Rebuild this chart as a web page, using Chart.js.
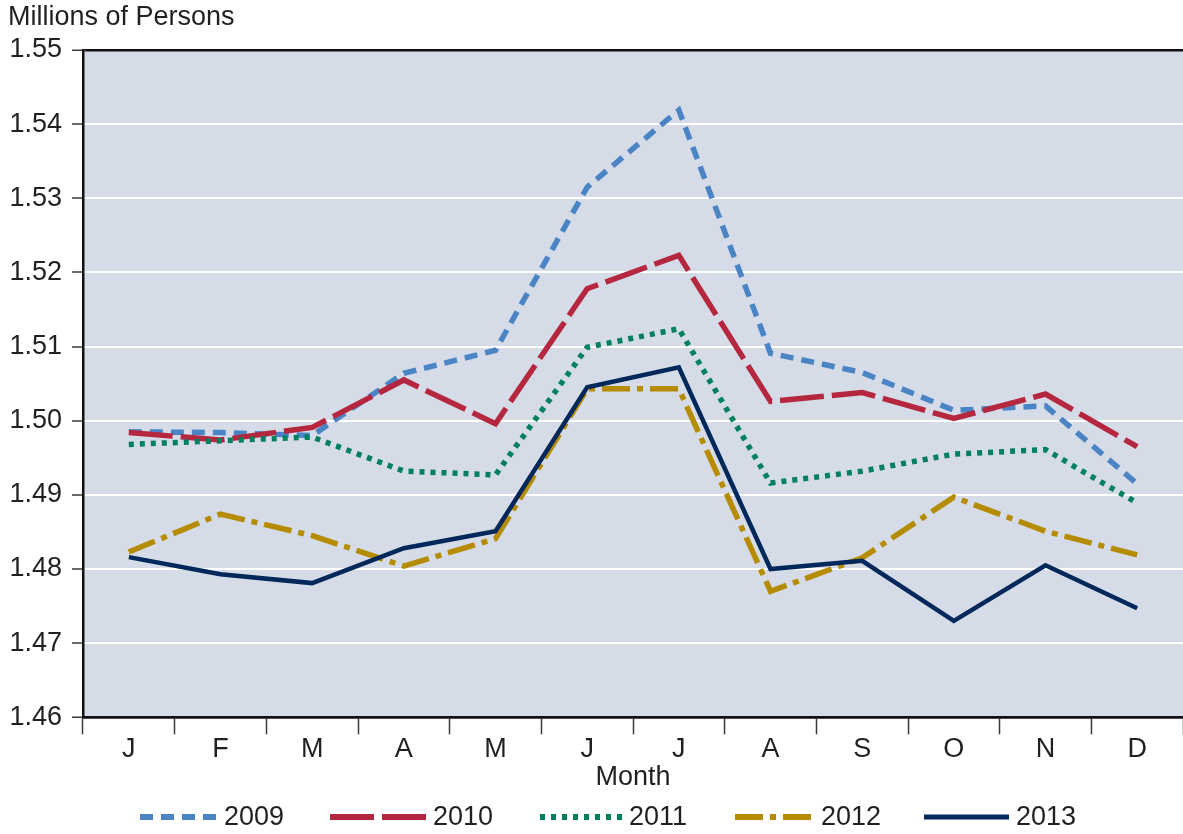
<!DOCTYPE html>
<html>
<head>
<meta charset="utf-8">
<script src="https://cdn.jsdelivr.net/npm/chart.js@4.4.1/dist/chart.umd.min.js"></script>
<style>
  html, body { margin: 0; padding: 0; background: #ffffff; }
  #wrap { width: 1183px; height: 834px; }
</style>
</head>
<body>
<div id="wrap"><canvas id="chart" width="1183" height="834"></canvas></div>
<script>
// Monthly employment, millions of persons
const months = ['J', 'F', 'M', 'A', 'M', 'J', 'J', 'A', 'S', 'O', 'N', 'D'];
const years = ['2009', '2010', '2011', '2012', '2013'];

const values2009 = [1.4985, 1.4984, 1.4980, 1.5064, 1.5095, 1.5315, 1.5419, 1.5091, 1.5065, 1.5014, 1.5020, 1.4915];
const values2010 = [1.4984, 1.4974, 1.4991, 1.5055, 1.4996, 1.5178, 1.5223, 1.5026, 1.5038, 1.5003, 1.5036, 1.4965];
const values2011 = [1.4968, 1.4973, 1.4978, 1.4932, 1.4927, 1.5099, 1.5124, 1.4916, 1.4932, 1.4955, 1.4961, 1.4889];
const values2012 = [1.4823, 1.4874, 1.4845, 1.4804, 1.4841, 1.5043, 1.5043, 1.4770, 1.4815, 1.4897, 1.4851, 1.4819];
const values2013 = [1.4816, 1.4793, 1.4781, 1.4828, 1.4851, 1.5045, 1.5072, 1.4800, 1.4811, 1.4730, 1.4805, 1.4747];

const yMin = 1.46;
const yMax = 1.55;
const yStep = 0.01;

const FONT = "'Liberation Sans', Arial, sans-serif";
const FONT_SIZE = 27;
const TEXT = '#231f20';

function series(label, data, color, dash, width, order) {
  return {
    label: label,
    data: data,
    borderColor: color,
    backgroundColor: color,
    borderDash: dash,
    borderWidth: width,
    borderCapStyle: 'butt',
    pointRadius: 0,
    pointHoverRadius: 0,
    tension: 0,
    fill: false,
    order: order
  };
}

const datasets = [
  series(years[0], values2009, '#4a84c4', [13, 8], 5.5, 5),
  series(years[1], values2010, '#b5273f', [44, 8], 5.5, 4),
  series(years[2], values2011, '#00805e', [5, 6], 5.5, 3),
  series(years[3], values2012, '#b58b00', [28, 7, 6, 7], 5.5, 2),
  series(years[4], values2013, '#00285a', [], 4.5, 1)
];

// white page + shaded plot area
const plotBackground = {
  id: 'plotBackground',
  beforeDraw(chart) {
    const { ctx, chartArea: a } = chart;
    ctx.save();
    ctx.fillStyle = '#ffffff';
    ctx.fillRect(0, 0, chart.width, chart.height);
    ctx.fillStyle = '#d6dce7';
    ctx.fillRect(a.left, a.top, a.right - a.left, a.bottom - a.top);
    ctx.restore();
  }
};

// unit caption above the value axis
const unitCaption = {
  id: 'unitCaption',
  afterDraw(chart) {
    const ctx = chart.ctx;
    ctx.save();
    ctx.font = FONT_SIZE + 'px ' + FONT;
    ctx.fillStyle = TEXT;
    ctx.textAlign = 'left';
    ctx.textBaseline = 'middle';
    ctx.fillText('Millions of Persons', 8, 18);
    ctx.restore();
  }
};

// legend row with line samples in each series' own style
const lineLegend = {
  id: 'lineLegend',
  afterDraw(chart, args, opts) {
    const ctx = chart.ctx;
    const y = opts.y;
    ctx.save();
    ctx.font = FONT_SIZE + 'px ' + FONT;
    ctx.textBaseline = 'middle';
    ctx.textAlign = 'left';
    chart.data.datasets.forEach((ds, i) => {
      const x = opts.starts[i];
      const w = opts.sampleWidths[i];
      ctx.beginPath();
      ctx.setLineDash(ds.borderDash || []);
      ctx.lineCap = 'butt';
      ctx.lineWidth = ds.borderWidth + 0.5;
      ctx.strokeStyle = ds.borderColor;
      ctx.moveTo(x, y);
      ctx.lineTo(x + w, y);
      ctx.stroke();
      ctx.setLineDash([]);
      ctx.fillStyle = TEXT;
      ctx.fillText(ds.label, x + w + opts.textGap, y + 1);
    });
    ctx.restore();
  }
};

const isEdge = (v) => Math.abs(v - yMax) < 1e-9 || Math.abs(v - yMin) < 1e-9;

new Chart(document.getElementById('chart'), {
  type: 'line',
  data: { labels: months, datasets: datasets },
  plugins: [plotBackground, unitCaption, lineLegend],
  options: {
    responsive: false,
    animation: false,
    devicePixelRatio: 1,
    layout: { padding: { top: 50, right: 0, bottom: 43, left: 0 } },
    plugins: {
      legend: { display: false },
      tooltip: { enabled: false },
      lineLegend: {
        y: 817,
        starts: [140, 330, 540, 735, 924],
        sampleWidths: [77, 96, 82, 79, 85],
        textGap: 7
      }
    },
    scales: {
      x: {
        type: 'category',
        offset: true,
        grid: {
          display: true,
          offset: true,
          drawOnChartArea: false,
          drawTicks: true,
          tickLength: 17,
          tickColor: '#3a3a3a',
          tickWidth: 1.5
        },
        border: { display: true, color: '#111111', width: 2.5 },
        ticks: {
          color: TEXT,
          padding: 0,
          maxRotation: 0,
          autoSkip: false,
          font: { family: FONT, size: FONT_SIZE, lineHeight: 1.1 }
        },
        title: {
          display: true,
          text: 'Month',
          color: TEXT,
          font: { family: FONT, size: FONT_SIZE, lineHeight: 1.0 },
          padding: { top: 0, bottom: 0 }
        }
      },
      y: {
        min: yMin,
        max: yMax,
        afterFit(scale) { scale.width = 83; },
        grid: {
          color: (c) => (c.tick && isEdge(c.tick.value)) ? '#111111' : '#ffffff',
          lineWidth: (c) => (c.tick && isEdge(c.tick.value)) ? 2.5 : 2,
          tickLength: 11,
          tickColor: '#3a3a3a',
          tickWidth: 1.5
        },
        border: { display: true, color: '#111111', width: 2.5 },
        ticks: {
          stepSize: yStep,
          color: TEXT,
          padding: 10,
          font: { family: FONT, size: FONT_SIZE },
          callback: (v) => Number(v).toFixed(2)
        }
      }
    }
  }
});
</script>
</body>
</html>
